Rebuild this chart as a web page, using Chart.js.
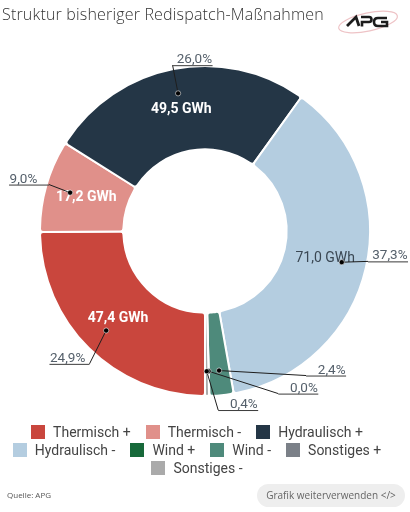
<!DOCTYPE html>
<html><head><meta charset="utf-8">
<script src="https://cdn.jsdelivr.net/npm/chart.js@4/dist/chart.umd.min.js"></script>
<style>
html,body{margin:0;padding:0;background:#fff;}
body{width:410px;height:512px;position:relative;overflow:hidden;font-family:Roboto,sans-serif;}
#title{position:absolute;left:2px;top:3px;font-family:"Open Sans",sans-serif;font-weight:300;font-size:16px;letter-spacing:0.18px;color:#333;white-space:nowrap;}
#logo{position:absolute;left:336px;top:5px;}
#wrap{position:absolute;left:0;top:0;width:410px;height:462px;}
#legend{position:absolute;left:0;top:423px;width:394px;display:flex;flex-wrap:wrap;justify-content:center;column-gap:15px;}
.li{display:flex;align-items:center;height:18px;font-size:14px;color:#444;white-space:nowrap;}
.box{width:14px;height:14px;margin-right:8px;}
#src{position:absolute;left:7px;top:489px;font-family:"Open Sans",sans-serif;font-size:8px;color:#555;}
#btn{position:absolute;left:257px;top:484px;width:148px;height:23px;border-radius:12px;background:#eeeeee;font-family:"Open Sans",sans-serif;font-size:10px;color:#666;text-align:center;line-height:23px;}
</style></head>
<body>
<div id="wrap"><canvas id="c" width="410" height="462"></canvas></div>
<div id="title">Struktur bisheriger Redispatch-Maßnahmen</div>
<svg id="logo" width="64" height="34" viewBox="0 0 64 34">
  <ellipse cx="32" cy="17" rx="30" ry="9" transform="rotate(-12 32 17)" fill="none" stroke="#eec3c6" stroke-width="1.2"/>
  <path d="M11 21 L20 12 L23 21" fill="none" stroke="#1c1c1c" stroke-width="2.8" stroke-linejoin="miter"/>
  <path d="M25 12 L33 12 Q35.5 12 35.5 14.5 Q35.5 17 33 17 L26 17 L26 21.5" fill="none" stroke="#1c1c1c" stroke-width="2.6"/>
  <path d="M51 13 L42 13 Q38 13 38 17 Q38 21 42 21 L51 21 L51 17 L45 17" fill="none" stroke="#1c1c1c" stroke-width="2.6"/>
</svg>
<div id="legend"></div>
<div id="src">Quelle: APG</div>
<div id="btn">Grafik weiterverwenden &lt;/&gt;</div>
<script>
// ---- data ----
const categories = ['Thermisch +','Thermisch -','Hydraulisch +','Hydraulisch -','Wind +','Wind -','Sonstiges +','Sonstiges -'];
const valuesGWh = [47.4, 17.2, 49.5, 71.0, 0, 4.5, 0.05, 0.75];
const colors = ['#c9463d','#e0908a','#243646','#b4cde0','#17693a','#4e8a7b','#7b8088','#aaaaaa'];
const unit = 'GWh';
// label placement (style): angle offset from slice mid (deg), elbow radius factor, underline side
const labelPlacement = [
  {da:-3.8, rf:1.067, side:-1},
  {da:0.7,  rf:0.986, side:-1},
  {da:0,    rf:1.024, side:1},
  {da:-2.3, rf:1.005, side:1},
  null,
  {da:-29.2, rf:1.069, side:1},
  {da:-22.8, rf:1.081, side:1},
  {da:-3.5,  rf:1.088, side:1}
];

function fmt(v){ return v.toFixed(1).replace('.', ','); }
function isLight(hex){
  const n = parseInt(hex.slice(1),16);
  const r=(n>>16)&255,g=(n>>8)&255,b=n&255;
  return (0.299*r+0.587*g+0.114*b) > 185;
}

const outLabels = {
  id:'outLabels',
  afterDatasetsDraw(chart){
    const ctx = chart.ctx;
    const meta = chart.getDatasetMeta(0);
    const data = chart.data.datasets[0].data;
    const total = data.reduce((a,b)=>a+b,0);
    ctx.save();
    // inner value labels
    meta.data.forEach((arc,i)=>{
      const v = data[i];
      if (!v) return;
      const pct = v/total*100;
      if (pct < 5) return;
      const mid = (arc.startAngle+arc.endAngle)/2;
      const r = (arc.innerRadius+arc.outerRadius)/2;
      const x = arc.x + Math.cos(mid)*r, y = arc.y + Math.sin(mid)*r;
      const light = isLight(colors[i]);
      ctx.font = (light ? 'normal ' : 'bold ') + '14px Roboto';
      ctx.fillStyle = light ? '#3a4753' : '#ffffff';
      ctx.textAlign = 'center'; ctx.textBaseline = 'middle';
      ctx.fillText(fmt(v) + ' ' + unit, x, y);
    });
    // outer percentage labels with leader lines
    const dots = [];
    meta.data.forEach((arc,i)=>{
      const pl = labelPlacement[i];
      if (!pl || !data[i]) return;
      const pct = data[i]/total*100;
      const mid = (arc.startAngle+arc.endAngle)/2;
      const R = arc.outerRadius;
      const dx = arc.x + Math.cos(mid)*R*0.85, dy = arc.y + Math.sin(mid)*R*0.85;
      const ea = mid + pl.da*Math.PI/180;
      const ex = arc.x + Math.cos(ea)*R*pl.rf, ey = arc.y + Math.sin(ea)*R*pl.rf;
      const fx = ex + pl.side*40;
      ctx.strokeStyle = '#1e1e1e'; ctx.lineWidth = 1;
      ctx.beginPath(); ctx.moveTo(dx,dy); ctx.lineTo(ex,ey); ctx.stroke();
      ctx.strokeStyle = '#3a3a3a';
      ctx.beginPath(); ctx.moveTo(ex,ey+0.5); ctx.lineTo(fx,ey+0.5); ctx.stroke();
      ctx.font = '13.5px Roboto';
      ctx.fillStyle = '#55606b';
      ctx.textBaseline = 'alphabetic';
      ctx.textAlign = pl.side>0 ? 'right' : 'left';
      ctx.fillText(fmt(pct)+'%', fx - pl.side*0.5, ey - 2);
      dots.push([dx,dy]);
    });
    dots.forEach(([x,y])=>{
      ctx.beginPath(); ctx.arc(x,y,2.6,0,Math.PI*2);
      ctx.fillStyle = '#000'; ctx.fill();
      ctx.strokeStyle = 'rgba(255,255,255,0.7)'; ctx.lineWidth = 0.8; ctx.stroke();
    });
    ctx.restore();
  }
};

new Chart(document.getElementById('c'), {
  type:'doughnut',
  data:{
    labels: categories,
    datasets:[{
      data: valuesGWh,
      backgroundColor: colors,
      borderColor:'#ffffff',
      borderWidth:2,
      borderRadius:3
    }]
  },
  options:{
    responsive:false,
    animation:false,
    devicePixelRatio:1,
    events:[],
    rotation:180,
    radius:165,
    cutout:'49.5%',
    layout:{padding:0},
    plugins:{legend:{display:false}, tooltip:{enabled:false}}
  },
  plugins:[outLabels]
});

// HTML legend from the same arrays
const lg = document.getElementById('legend');
categories.forEach((c,i)=>{
  const d = document.createElement('div'); d.className='li';
  const b = document.createElement('span'); b.className='box'; b.style.background = colors[i];
  const t = document.createElement('span'); t.textContent = c;
  d.appendChild(b); d.appendChild(t); lg.appendChild(d);
});
</script>
</body></html>
